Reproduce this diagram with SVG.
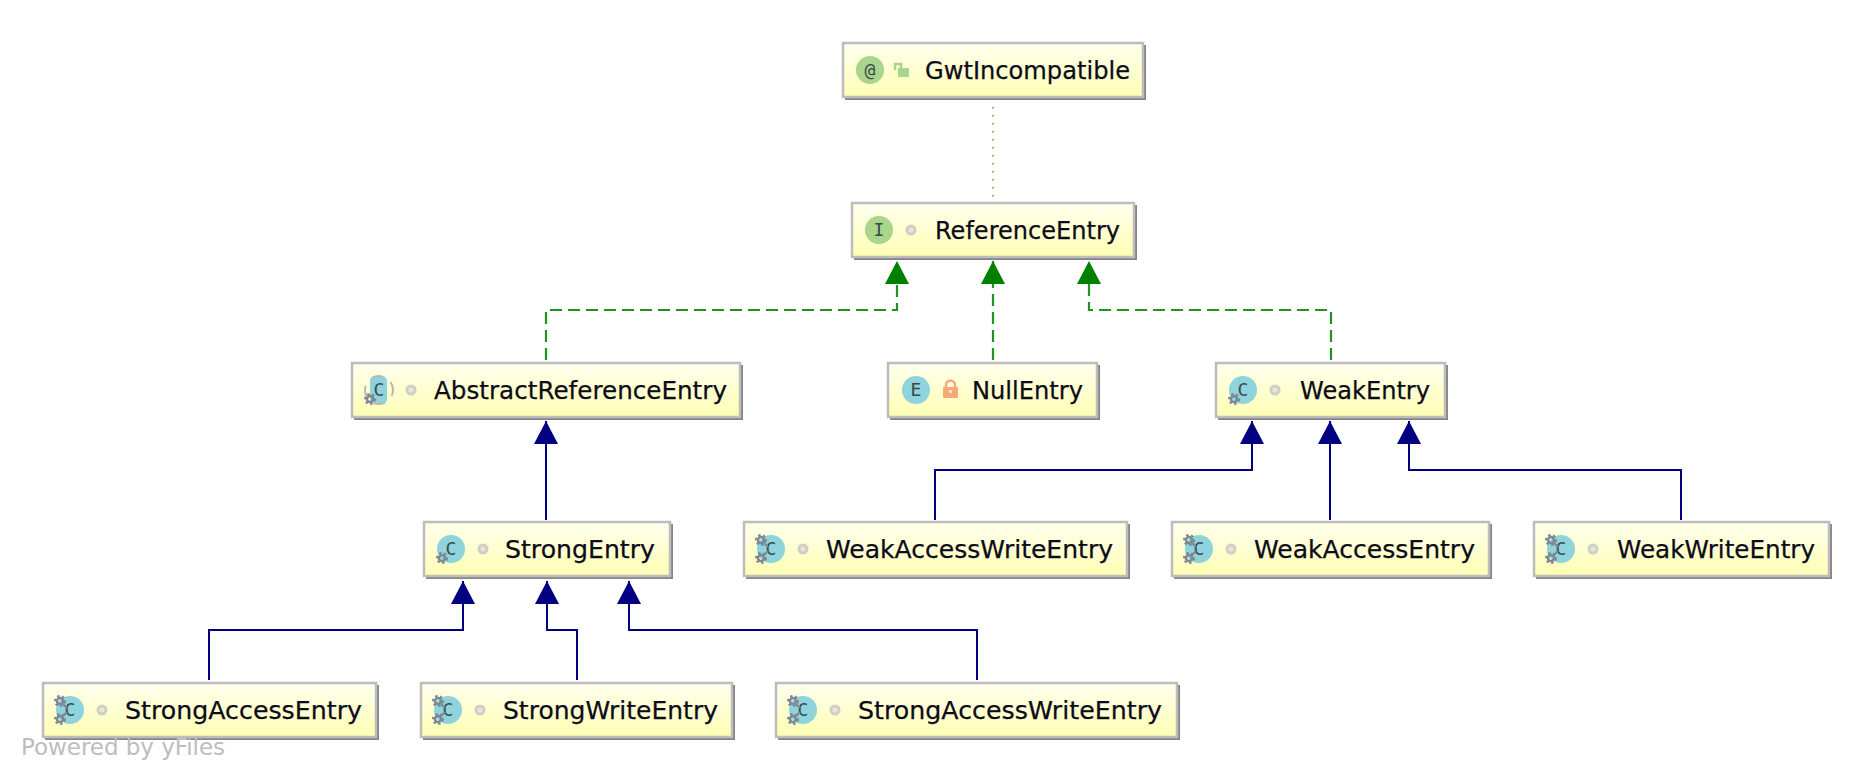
<svg xmlns="http://www.w3.org/2000/svg" xmlns:xlink="http://www.w3.org/1999/xlink" width="1872" height="780" viewBox="0 0 1872 780">
<style>
text{font-family:"DejaVu Sans","Liberation Sans",sans-serif}
.box{fill:url(#g);stroke:#bdbdbd;stroke-width:2.5}
.sh{fill:#868686}
.t{font-size:24px;fill:#0c0c18;stroke:#0c0c18;stroke-width:.25}
.l{font-size:18px;fill:#3a474c;font-family:"DejaVu Sans Mono",monospace}
.cl{fill:#8fd3dc}.ifc{fill:#a9d68a}
.inh{fill:none;stroke:#000080;stroke-width:2}
.imp{fill:none;stroke:#1f941f;stroke-width:2.2;stroke-dasharray:12 6}
.dep{fill:none;stroke:#8f8f20;stroke-width:1.5;stroke-dasharray:1.5 6.5}
</style>
<defs>
<linearGradient id="g" x1="0" y1="0" x2="0" y2="1"><stop offset="0" stop-color="#ffffee"/><stop offset="1" stop-color="#ffffb4"/></linearGradient>
<marker id="ab" markerUnits="userSpaceOnUse" markerWidth="23" markerHeight="24" refX="23" refY="12" orient="auto"><path d="M0 0L23 12L0 24Z" fill="#000080"/></marker>
<marker id="ag" markerUnits="userSpaceOnUse" markerWidth="23" markerHeight="24" refX="23" refY="12" orient="auto"><path d="M0 0L23 12L0 24Z" fill="#008000"/></marker>
<g id="gear"><circle r="3" fill="none" stroke="#7d8794" stroke-width="2.6"/><circle r="5" fill="none" stroke="#7d8794" stroke-width="2" stroke-dasharray="2.5 2.5"/></g>
<g id="gear2"><use xlink:href="#gear" x="0" y="-9"/><use xlink:href="#gear" x="0" y="9"/><path d="M3 -6L7 -2M3 6L7 2" stroke="#7d8794" stroke-width="2"/></g>
<g id="dotm"><circle r="4" fill="#e6e6d8" stroke="#cfcfc4" stroke-width="3"/></g>
</defs>

<g id="connectors">
<path class="dep" d="M993 107V198"/>
<path class="imp" d="M546 360V310H897V261" marker-end="url(#ag)"/>
<path class="imp" d="M993 360V261" marker-end="url(#ag)"/>
<path class="imp" d="M1331 360V310H1089V261" marker-end="url(#ag)"/>
<path class="inh" d="M546 520V421" marker-end="url(#ab)"/>
<path class="inh" d="M935 520V470H1252V421" marker-end="url(#ab)"/>
<path class="inh" d="M1330 520V421" marker-end="url(#ab)"/>
<path class="inh" d="M1681 520V470H1409V421" marker-end="url(#ab)"/>
<path class="inh" d="M209 680V630H463V581" marker-end="url(#ab)"/>
<path class="inh" d="M577 680V630H547V581" marker-end="url(#ab)"/>
<path class="inh" d="M977 680V630H629V581" marker-end="url(#ab)"/>
</g>

<g id="n-GwtIncompatible"><rect class="sh" x="845" y="45" width="301" height="55"/><rect class="box" x="843" y="43" width="300" height="54"/>
<circle class="ifc" cx="870" cy="70" r="14"/><text class="l" x="870" y="76" text-anchor="middle">@</text>
<path d="M895 70v-6h6v4" fill="none" stroke="#a9d68a" stroke-width="2.5"/><rect x="898" y="68" width="11" height="9" fill="#a9d68a"/>
<text class="t" x="925" y="79" textLength="205" lengthAdjust="spacingAndGlyphs">GwtIncompatible</text></g>

<g id="n-ReferenceEntry"><rect class="sh" x="854" y="205" width="283" height="55"/><rect class="box" x="852" y="203" width="282" height="54"/>
<circle class="ifc" cx="879" cy="230" r="14"/><text class="l" x="879" y="236" text-anchor="middle">I</text>
<use xlink:href="#dotm" x="911" y="230"/>
<text class="t" x="935" y="239" textLength="185" lengthAdjust="spacingAndGlyphs">ReferenceEntry</text></g>

<g id="n-AbstractReferenceEntry"><rect class="sh" x="354" y="365" width="389" height="55"/><rect class="box" x="352" y="363" width="388" height="54"/>
<rect class="cl" x="370" y="376" width="17" height="28" rx="5"/>
<circle cx="379" cy="390" r="14" fill="none" stroke="#b8b8b0" stroke-width="2" stroke-dasharray="11 10" stroke-dashoffset="5"/>
<text class="l" x="379" y="396" text-anchor="middle">C</text>
<use xlink:href="#gear" x="370" y="399"/><use xlink:href="#dotm" x="411" y="390"/>
<text class="t" x="434" y="399" textLength="293" lengthAdjust="spacingAndGlyphs">AbstractReferenceEntry</text></g>

<g id="n-NullEntry"><rect class="sh" x="890" y="365" width="210" height="55"/><rect class="box" x="888" y="363" width="209" height="54"/>
<circle class="cl" cx="916" cy="390" r="14"/><text class="l" x="916" y="396" text-anchor="middle">E</text>
<path d="M946 388v-3a4.5 4.5 0 0 1 9 0v3" fill="none" stroke="#f8a878" stroke-width="2.5"/><rect x="943" y="387" width="15" height="11" rx="1" fill="#f8a878"/><rect x="949" y="390" width="3" height="3" fill="#fde0c8"/>
<text class="t" x="972" y="399" textLength="111" lengthAdjust="spacingAndGlyphs">NullEntry</text></g>

<g id="n-WeakEntry"><rect class="sh" x="1218" y="365" width="230" height="55"/><rect class="box" x="1216" y="363" width="229" height="54"/>
<circle class="cl" cx="1243" cy="390" r="14"/><text class="l" x="1243" y="396" text-anchor="middle">C</text>
<use xlink:href="#gear" x="1234" y="399"/><use xlink:href="#dotm" x="1275" y="390"/>
<text class="t" x="1300" y="399" textLength="130" lengthAdjust="spacingAndGlyphs">WeakEntry</text></g>

<g id="n-StrongEntry"><rect class="sh" x="426" y="524" width="247" height="55"/><rect class="box" x="424" y="522" width="246" height="54"/>
<circle class="cl" cx="451" cy="549" r="14"/><text class="l" x="451" y="555" text-anchor="middle">C</text>
<use xlink:href="#gear" x="442" y="558"/><use xlink:href="#dotm" x="483" y="549"/>
<text class="t" x="505" y="558" textLength="150" lengthAdjust="spacingAndGlyphs">StrongEntry</text></g>

<g id="n-WeakAccessWriteEntry"><rect class="sh" x="746" y="524" width="384" height="55"/><rect class="box" x="744" y="522" width="383" height="54"/>
<circle class="cl" cx="771" cy="549" r="14"/><text class="l" x="771" y="555" text-anchor="middle">C</text>
<use xlink:href="#gear2" x="761" y="549"/><use xlink:href="#dotm" x="803" y="549"/>
<text class="t" x="826" y="558" textLength="287" lengthAdjust="spacingAndGlyphs">WeakAccessWriteEntry</text></g>

<g id="n-WeakAccessEntry"><rect class="sh" x="1174" y="524" width="318" height="55"/><rect class="box" x="1172" y="522" width="317" height="54"/>
<circle class="cl" cx="1199" cy="549" r="14"/><text class="l" x="1199" y="555" text-anchor="middle">C</text>
<use xlink:href="#gear2" x="1189" y="549"/><use xlink:href="#dotm" x="1231" y="549"/>
<text class="t" x="1254" y="558" textLength="221" lengthAdjust="spacingAndGlyphs">WeakAccessEntry</text></g>

<g id="n-WeakWriteEntry"><rect class="sh" x="1536" y="524" width="296" height="55"/><rect class="box" x="1534" y="522" width="295" height="54"/>
<circle class="cl" cx="1561" cy="549" r="14"/><text class="l" x="1561" y="555" text-anchor="middle">C</text>
<use xlink:href="#gear2" x="1551" y="549"/><use xlink:href="#dotm" x="1593" y="549"/>
<text class="t" x="1617" y="558" textLength="198" lengthAdjust="spacingAndGlyphs">WeakWriteEntry</text></g>

<g id="n-StrongAccessEntry"><rect class="sh" x="45" y="685" width="334" height="55"/><rect class="box" x="43" y="683" width="333" height="54"/>
<circle class="cl" cx="70" cy="710" r="14"/><text class="l" x="70" y="716" text-anchor="middle">C</text>
<use xlink:href="#gear2" x="60" y="710"/><use xlink:href="#dotm" x="102" y="710"/>
<text class="t" x="125" y="719" textLength="237" lengthAdjust="spacingAndGlyphs">StrongAccessEntry</text></g>

<g id="n-StrongWriteEntry"><rect class="sh" x="423" y="685" width="312" height="55"/><rect class="box" x="421" y="683" width="311" height="54"/>
<circle class="cl" cx="448" cy="710" r="14"/><text class="l" x="448" y="716" text-anchor="middle">C</text>
<use xlink:href="#gear2" x="438" y="710"/><use xlink:href="#dotm" x="480" y="710"/>
<text class="t" x="503" y="719" textLength="215" lengthAdjust="spacingAndGlyphs">StrongWriteEntry</text></g>

<g id="n-StrongAccessWriteEntry"><rect class="sh" x="778" y="685" width="402" height="55"/><rect class="box" x="776" y="683" width="401" height="54"/>
<circle class="cl" cx="803" cy="710" r="14"/><text class="l" x="803" y="716" text-anchor="middle">C</text>
<use xlink:href="#gear2" x="793" y="710"/><use xlink:href="#dotm" x="835" y="710"/>
<text class="t" x="858" y="719" textLength="304" lengthAdjust="spacingAndGlyphs">StrongAccessWriteEntry</text></g>

<text x="21" y="755" font-size="23" fill="#bdbdbd" textLength="204">Powered by yFiles</text>
</svg>
